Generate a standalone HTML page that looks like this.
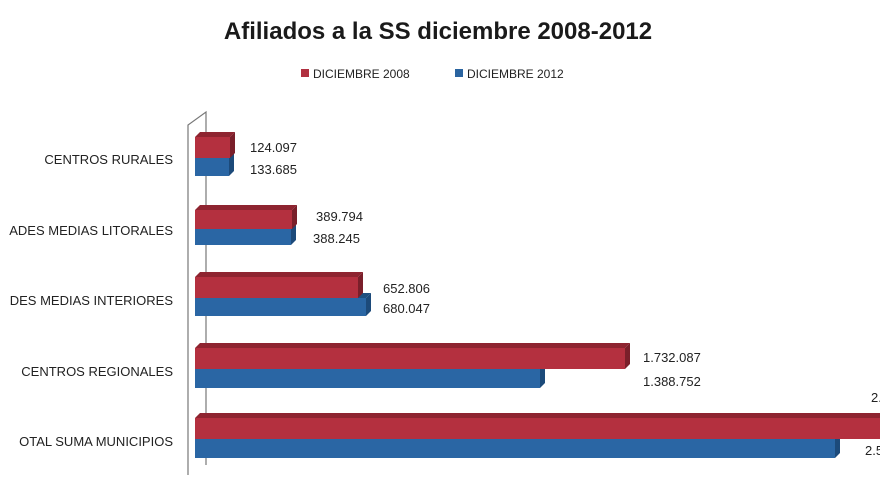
<!DOCTYPE html>
<html><head><meta charset="utf-8"><style>
body{margin:0;background:#fff;width:880px;height:495px;overflow:hidden}
svg{display:block;font-family:"Liberation Sans",sans-serif}
</style></head><body>
<svg width="880" height="495" viewBox="0 0 880 495">
<text x="438" y="39" text-anchor="middle" font-size="24" font-weight="bold" fill="#1a1a1a">Afiliados a la SS diciembre 2008-2012</text>
<rect x="301" y="69" width="8" height="8" fill="#b03040"/>
<text x="313" y="78" font-size="12" fill="#222">DICIEMBRE 2008</text>
<rect x="455" y="69" width="8" height="8" fill="#2a64a0"/>
<text x="467" y="78" font-size="12" fill="#222">DICIEMBRE 2012</text>
<!-- wall -->
<g stroke="#777" stroke-width="1.2" fill="none">
<polyline points="188,475 188,125 206,112 206,465"/>
</g>
<g font-size="13" fill="#222" text-anchor="end">
<text x="173" y="164">CENTROS RURALES</text>
<text x="173" y="235">ADES MEDIAS LITORALES</text>
<text x="173" y="305">DES MEDIAS INTERIORES</text>
<text x="173" y="376">CENTROS REGIONALES</text>
<text x="173" y="446">OTAL SUMA MUNICIPIOS</text>
</g>
<defs>
<g id="x"></g>
</defs>
<g id="bars"></g>
<script>
var g=document.getElementById('bars'),ns='http://www.w3.org/2000/svg';
function bar(x2,y,h,c,top,side){
 var d=5;
 var p=document.createElementNS(ns,'polygon');p.setAttribute('points',`195,${y} ${195+d},${y-d} ${x2+d},${y-d} ${x2},${y}`);p.setAttribute('fill',top);g.appendChild(p);
 p=document.createElementNS(ns,'polygon');p.setAttribute('points',`${x2},${y} ${x2+d},${y-d} ${x2+d},${y+h-d} ${x2},${y+h}`);p.setAttribute('fill',side);g.appendChild(p);
 var r=document.createElementNS(ns,'rect');r.setAttribute('x',195);r.setAttribute('y',y);r.setAttribute('width',x2-195);r.setAttribute('height',h);r.setAttribute('fill',c);g.appendChild(r);
}
var R=['#b4303f','#7a1f2a','#8e2430'],B=['#2a66a4','#1c4a7a','#1f5080'];
[[230,229,137,176],[292,291,210,245],[358,366,277,316],[625,540,348,388],[900,835,418,458]].forEach(function(a){
 var y=a[2],yb=a[3];var mid=y+Math.round((yb-y)/2)+1;
 bar(a[1],mid,yb-mid,B[0],B[2],B[1]);
 bar(a[0],y,mid-y,R[0],R[2],R[1]);
});
</script>
<g font-size="13" fill="#222">
<text x="250" y="152">124.097</text><text x="250" y="174">133.685</text>
<text x="316" y="221">389.794</text><text x="313" y="243">388.245</text>
<text x="383" y="293">652.806</text><text x="383" y="313">680.047</text>
<text x="643" y="362">1.732.087</text><text x="643" y="386">1.388.752</text>
<text x="871" y="402">2.</text><text x="865" y="455">2.5</text>
</g>
</svg>
</body></html>
